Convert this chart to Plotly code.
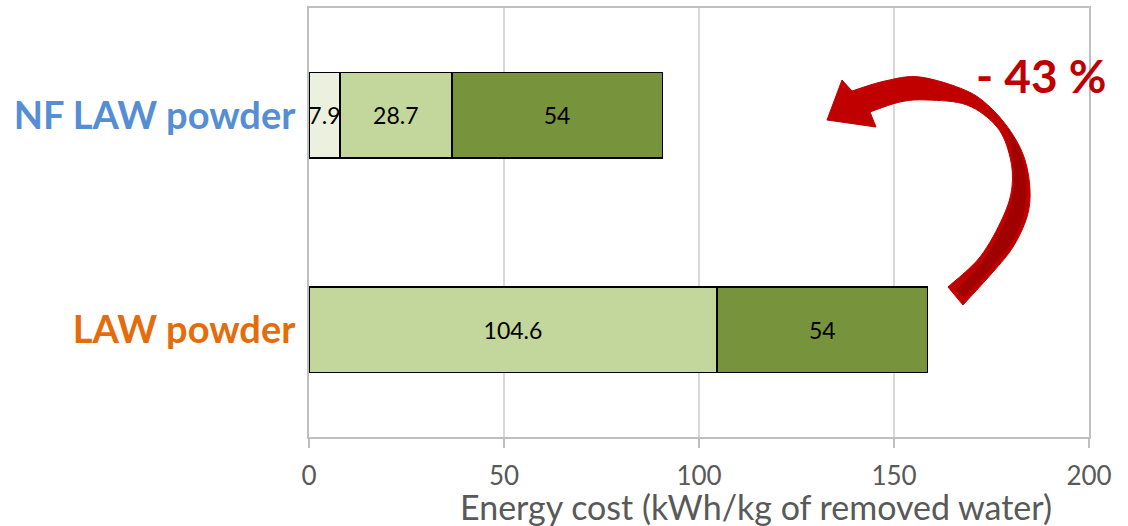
import plotly.graph_objects as go

# ---- data ----
categories = ["LAW powder", "NF LAW powder"]
cat_colors = ["#E46C0A", "#558ED5"]
seg1 = [0, 7.9]
seg2 = [104.6, 28.7]
seg3 = [54, 54]
seg_colors = ["#EBF1DE", "#C3D69B", "#77933C"]
x_ticks = [0, 50, 100, 150, 200]
x_title = "Energy cost (kWh/kg of removed water)"
reduction_label = "- 43 %"

FONT = "Lato"

fig = go.Figure()
for vals, col in zip([seg1, seg2, seg3], seg_colors):
    fig.add_trace(go.Bar(
        y=categories, x=vals, orientation="h",
        marker=dict(color=col, line=dict(color="black", width=1.6)),
        text=[("" if v == 0 else f"{v:g}") for v in vals],
        textposition="inside", insidetextanchor="middle", textangle=0,
        textfont=dict(family=FONT, size=23, color="black"),
        hoverinfo="skip", showlegend=False,
    ))

# ---- layout geometry (pixels) ----
W, H = 1128, 526
L, R, T, B = 309, 39, 8, 89
pw, ph = W - L - R, H - T - B


def to_paper(X, Y):
    return (X - L) / pw, (T + ph - Y) / ph


def smooth(points):
    """Catmull-Rom through points -> list of cubic bezier segments (pixel space)."""
    segs = []
    n = len(points)
    for i in range(n - 1):
        p0 = points[i - 1] if i > 0 else points[i]
        p1 = points[i]
        p2 = points[i + 1]
        p3 = points[i + 2] if i + 2 < n else points[i + 1]
        c1 = (p1[0] + (p2[0] - p0[0]) / 6, p1[1] + (p2[1] - p0[1]) / 6)
        c2 = (p2[0] - (p3[0] - p1[0]) / 6, p2[1] - (p3[1] - p1[1]) / 6)
        segs.append((c1, c2, p2))
    return segs


def fmt(pt):
    x, y = to_paper(*pt)
    return f"{x:.5f},{y:.5f}"


def path_from(parts):
    d = ""
    first = True
    for kind, pts in parts:
        if first:
            d += "M" + fmt(pts[0])
            first = False
        else:
            d += " L" + fmt(pts[0])
        if kind == "smooth":
            for c1, c2, p in smooth(pts):
                d += f" C{fmt(c1)} {fmt(c2)} {fmt(p)}"
        else:
            for p in pts[1:]:
                d += " L" + fmt(p)
    return d + " Z"


outer = [(852, 91), (885, 81), (920, 77), (967, 91), (993, 110), (1013, 135),
         (1025, 160), (1030, 190), (1027, 217), (1013, 247), (993, 272), (963, 305)]
inner = [(948, 287), (980, 257), (1003, 217), (1012, 187), (1010, 157), (997, 127),
         (967, 105), (927, 100), (900, 102), (870, 112)]
head = [(870, 112), (876, 127), (827, 120), (842, 80), (852, 91)]

arrow_path = path_from([("smooth", outer), ("smooth", inner), ("line", head)])

dark_outer = [(1008, 128), (1020, 152), (1026, 182), (1024, 213), (1011, 243), (991, 268), (964, 297)]
dark_inner = [(956, 290), (983, 261), (1005, 222), (1014, 190), (1013, 160), (1008, 128)]
dark_path = path_from([("smooth", dark_outer), ("smooth", dark_inner)])

fig.add_shape(type="path", path=arrow_path, xref="paper", yref="paper",
              fillcolor="#C00000", line=dict(color="#C00000", width=1), layer="above")
fig.add_shape(type="path", path=dark_path, xref="paper", yref="paper",
              fillcolor="#A00000", line=dict(color="#A00000", width=0.5), layer="above")

ax_, ay_ = to_paper(1041, 75)
fig.add_annotation(text=f"<b>{reduction_label}</b>", x=ax_, y=ay_, xref="paper", yref="paper",
                   showarrow=False, xanchor="center", yanchor="middle",
                   font=dict(family=FONT, size=46, color="#C00000"))

tx, ty = to_paper(756, 506)
fig.add_annotation(text=x_title, x=tx, y=ty, xref="paper", yref="paper",
                   showarrow=False, xanchor="center", yanchor="middle",
                   font=dict(family=FONT, size=34, color="#595959"))

fig.update_layout(
    width=W, height=H,
    margin=dict(l=L, r=R, t=T, b=B, autoexpand=False),
    barmode="stack", bargap=0.6,
    plot_bgcolor="white", paper_bgcolor="white",
    uniformtext=dict(minsize=23, mode="show"),
    xaxis=dict(range=[0, 200], tickvals=x_ticks, showgrid=True, automargin=False,
               gridcolor="#D9D9D9", gridwidth=1.5, zeroline=False,
               showline=True, linecolor="#BFBFBF", linewidth=2, mirror=True,
               ticks="outside", ticklen=9, tickcolor="#BFBFBF", tickwidth=1.5,
               ticklabelstandoff=6,
               tickfont=dict(family=FONT, size=26, color="#595959")),
    yaxis=dict(categoryorder="array", categoryarray=categories, automargin=False,
               tickvals=categories,
               ticktext=[f"<span style='color:{c}'><b>{t}</b></span>" for t, c in zip(categories, cat_colors)],
               showline=True, linecolor="#BFBFBF", linewidth=2, mirror=True,
               showgrid=False, zeroline=False, ticks="",
               ticklabelstandoff=4,
               tickfont=dict(family=FONT, size=38, color="#558ED5")),
)

fig.write_html("out.html", config={"displayModeBar": False},
               post_script="document.body.style.margin='0';document.body.style.overflow='hidden';")
